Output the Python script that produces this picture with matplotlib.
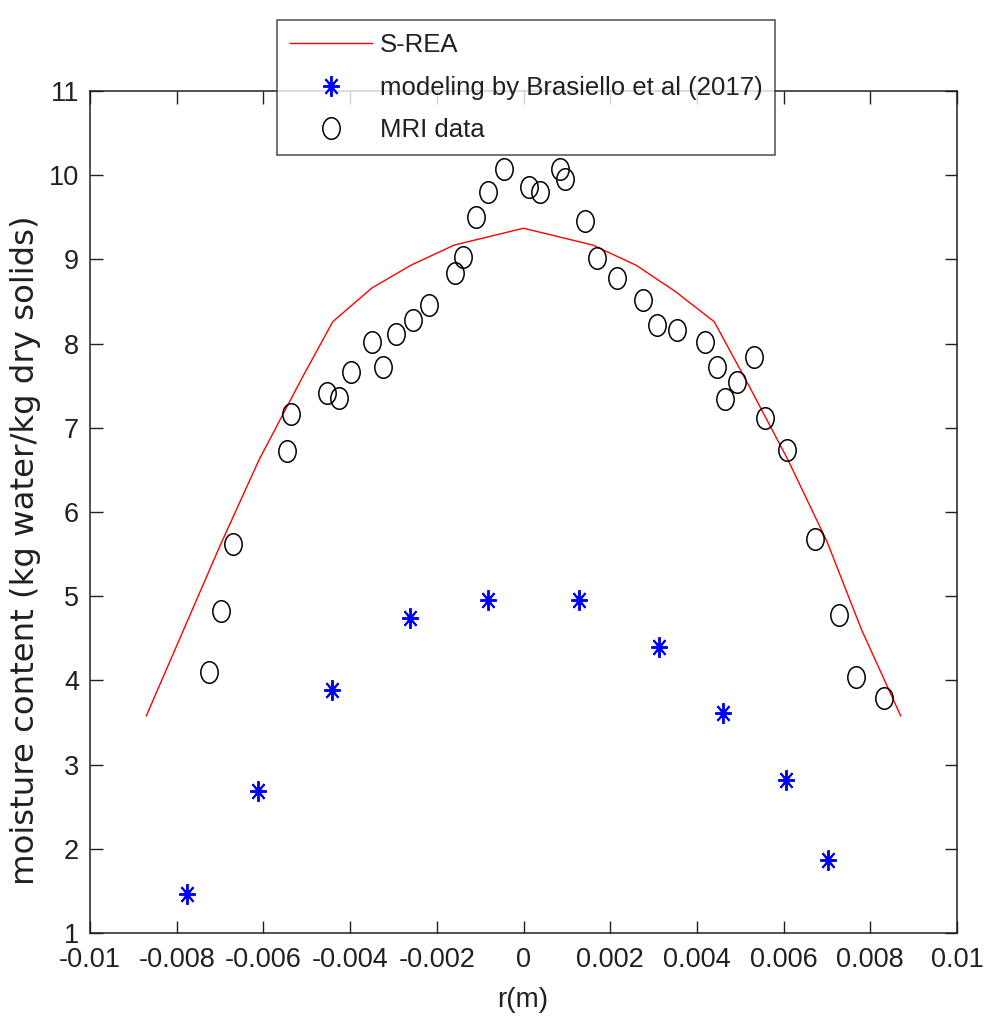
import matplotlib
matplotlib.use("Agg")
import matplotlib.pyplot as plt
from matplotlib.markers import MarkerStyle
from matplotlib.transforms import Affine2D

# S-REA model curve
srea_r = [-0.0087, -0.0078, -0.0070, -0.0061, -0.0051, -0.0044, -0.0035, -0.0026,
          -0.0016, 0.0, 0.0016, 0.0026, 0.0035, 0.0044, 0.0052, 0.0061, 0.0070,
          0.0078, 0.0087]
srea_m = [3.58, 4.65, 5.60, 6.62, 7.60, 8.26, 8.66, 8.93, 9.17, 9.37, 9.17, 8.93,
          8.62, 8.26, 7.50, 6.62, 5.65, 4.60, 3.58]

# modeling by Brasiello et al (2017)
bras_r = [-0.00776, -0.00612, -0.00441, -0.00261, -0.00081,
          0.00129, 0.00312, 0.0046, 0.00605, 0.00702]
bras_m = [1.46, 2.69, 3.89, 4.74, 4.95, 4.95, 4.40, 3.61, 2.82, 1.87]

# MRI data
mri_r = [-0.00725, -0.00697, -0.0067, -0.00545, -0.00536, -0.00453, -0.00425,
         -0.00397, -0.00323, -0.00349, -0.00293, -0.00256, -0.00219, -0.00157,
         -0.00139, -0.00109, -0.00081, -0.00044, 0.00012, 0.00039, 0.00085,
         0.00095, 0.00141, 0.00169, 0.00215, 0.00275, 0.00307, 0.00353, 0.00418,
         0.00446, 0.00531, 0.00492, 0.00464, 0.00557, 0.00607, 0.00672, 0.00727,
         0.00767, 0.00831]
mri_m = [4.10, 4.82, 5.62, 6.72, 7.16, 7.41, 7.35, 7.66, 7.72, 8.02, 8.11, 8.28,
         8.46, 8.84, 9.03, 9.50, 9.80, 10.07, 9.86, 9.80, 10.07, 9.95, 9.46,
         9.02, 8.78, 8.52, 8.22, 8.16, 8.02, 7.72, 7.84, 7.54, 7.34, 7.12, 6.74,
         5.68, 4.78, 4.04, 3.79]

xticks = [-0.01, -0.008, -0.006, -0.004, -0.002, 0, 0.002, 0.004, 0.006, 0.008, 0.01]
xticklabels = ["-0.01", "-0.008", "-0.006", "-0.004", "-0.002", "0",
               "0.002", "0.004", "0.006", "0.008", "0.01"]
yticks = list(range(1, 12))

plt.rcParams["font.family"] = ["Liberation Sans", "DejaVu Sans"]
ink = "#202020"

fig = plt.figure(figsize=(9.85, 10.25), dpi=100)
ax = fig.add_axes([90 / 985, 92 / 1025, 867 / 985, 842 / 1025])

# the original figure is stretched vertically, so markers are slightly tall
stretch = Affine2D().scale(1.0, 1.24)
circ = MarkerStyle("o", transform=stretch)
star = MarkerStyle((8, 2, 0), transform=stretch)

ax.plot(srea_r, srea_m, color="red", lw=1.0, label="S-REA")
ax.plot(bras_r, bras_m, ls="none", marker=star, ms=12, mec="blue", mew=1.4,
        color="blue", label="modeling by Brasiello et al (2017)")
ax.plot(mri_r, mri_m, ls="none", marker=circ, ms=12.5, mfc="none", mec="black",
        mew=1.1, label="MRI data")

ax.set_xlim(-0.01, 0.01)
ax.set_ylim(1, 11)
ax.set_xticks(xticks)
ax.set_xticklabels(xticklabels)
ax.set_yticks(yticks)
ax.tick_params(direction="in", length=9, width=1.0, top=True, right=True,
               labelsize=19.5, colors=ink)
ax.tick_params(axis="x", pad=10)
ax.tick_params(axis="y", pad=8)
for s in ax.spines.values():
    s.set_linewidth(1.1)
    s.set_color(ink)

ax.set_xlabel("r(m)", fontsize=20, color=ink)
ax.xaxis.set_label_coords(0.4994, -0.064)
ax.set_ylabel("moisture content (kg water/kg dry solids)", fontsize=23.3,
              family=["DejaVu Sans"], color=ink, va="center")
ax.yaxis.set_label_coords(-0.074, 0.455)

leg = ax.legend(loc="lower left", bbox_to_anchor=(277 / 985, 870 / 1025),
                bbox_transform=fig.transFigure, borderaxespad=0, fontsize=18.5,
                frameon=True, fancybox=False, edgecolor=ink,
                handlelength=3.2, handletextpad=0.3, borderpad=0.5,
                labelspacing=0.72)
leg.get_frame().set_linewidth(1.1)
for t in leg.get_texts():
    t.set_color(ink)

fig.savefig("out.png", dpi=100, facecolor="white")
